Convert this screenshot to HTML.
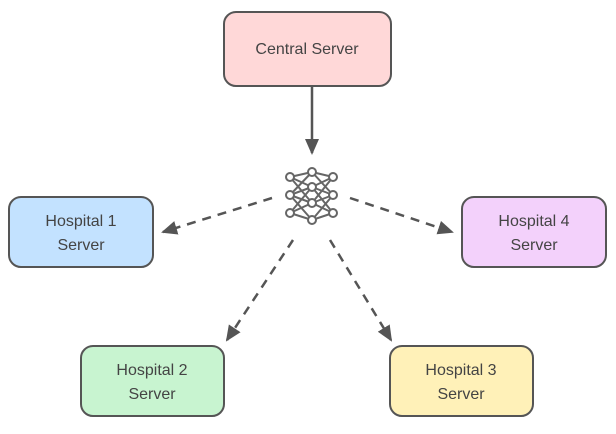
<!DOCTYPE html>
<html><head><style>
body{margin:0;background:#fff;}
svg{display:block;font-family:"Liberation Sans",sans-serif;}
</style></head><body>
<svg width="616" height="434" viewBox="0 0 616 434">
<defs><marker id="a" markerWidth="10" markerHeight="10" refX="8" refY="5" orient="auto" markerUnits="userSpaceOnUse"><path d="M0,0 L10,5 L0,10 Z" fill="#555"/></marker>
<marker id="b" markerWidth="16" markerHeight="14" refX="14" refY="7" orient="auto" markerUnits="userSpaceOnUse"><path d="M0,0 L16,7 L0,14 Z" fill="#555"/></marker></defs>
<g stroke="#555" stroke-width="2">
<rect x="224" y="12" width="167" height="74" rx="12" fill="#ffd8d8"/>
<rect x="9" y="197" width="144" height="70" rx="12" fill="#c3e2ff"/>
<rect x="462" y="197" width="144" height="70" rx="12" fill="#f3d1fb"/>
<rect x="81" y="346" width="143" height="70" rx="12" fill="#c8f4d0"/>
<rect x="390" y="346" width="143" height="70" rx="12" fill="#fff1b8"/>
</g>
<g stroke="#555" stroke-width="2.5" fill="none">
<line x1="312" y1="87" x2="312" y2="153" marker-end="url(#b)"/>
<g stroke-dasharray="9,7">
<line x1="272" y1="198" x2="163" y2="232" marker-end="url(#b)"/>
<line x1="293" y1="240" x2="227" y2="340" marker-end="url(#b)"/>
<line x1="330" y1="240" x2="391" y2="340" marker-end="url(#b)"/>
<line x1="350" y1="198" x2="452" y2="232" marker-end="url(#b)"/>
</g></g>
<g stroke="#666" stroke-width="2" fill="none">
<path d="M290,177L312,172M290,177L312,187M290,177L312,203M290,195L312,172M290,195L312,187M290,195L312,203M290,195L312,220M290,213L312,187M290,213L312,203M290,213L312,220M333,177L312,172M333,177L312,187M333,177L312,203M333,195L312,172M333,195L312,187M333,195L312,203M333,195L312,220M333,213L312,187M333,213L312,203M333,213L312,220"/>
<g fill="#fff">
<circle cx="290" cy="177" r="4"/><circle cx="290" cy="195" r="4"/><circle cx="290" cy="213" r="4"/>
<circle cx="312" cy="172" r="4"/><circle cx="312" cy="187" r="4"/><circle cx="312" cy="203" r="4"/><circle cx="312" cy="220" r="4"/>
<circle cx="333" cy="177" r="4"/><circle cx="333" cy="195" r="4"/><circle cx="333" cy="213" r="4"/>
</g></g>
<g fill="#444" font-size="16" text-anchor="middle">
<text x="307" y="54">Central Server</text>
<text x="81" y="226">Hospital 1</text><text x="81" y="250">Server</text>
<text x="534" y="226">Hospital 4</text><text x="534" y="250">Server</text>
<text x="152" y="375">Hospital 2</text><text x="152" y="399">Server</text>
<text x="461" y="375">Hospital 3</text><text x="461" y="399">Server</text>
</g>
</svg>
</body></html>
